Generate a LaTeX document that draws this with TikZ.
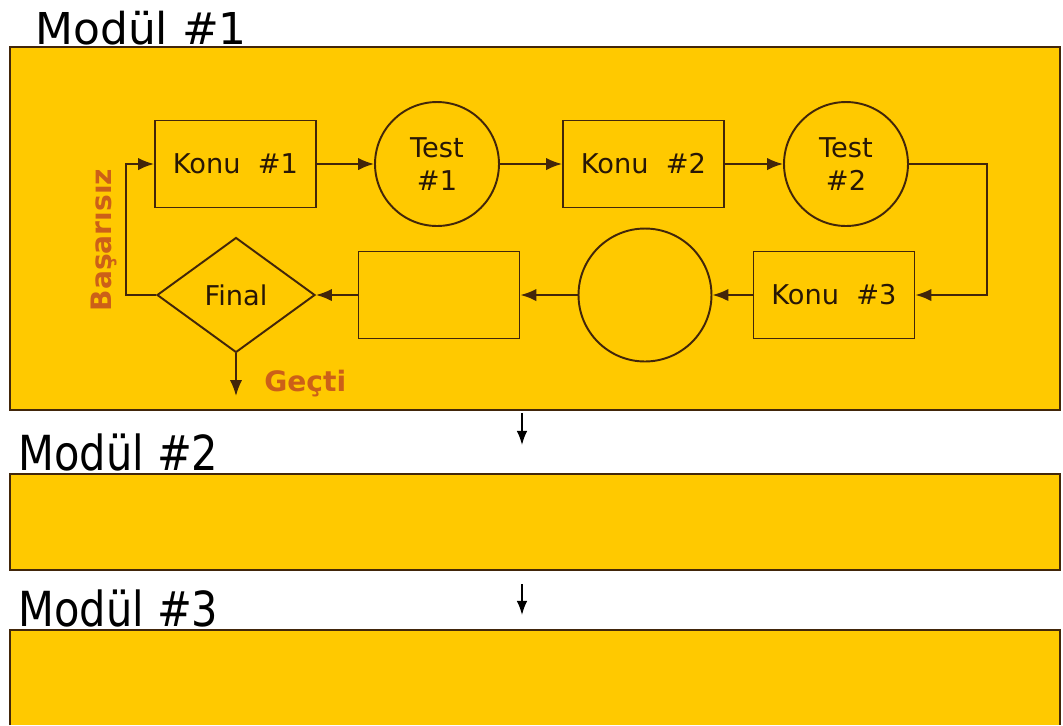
\documentclass[tikz,border=0pt]{standalone}
\usepackage{fontspec}
\setmainfont{DejaVu Sans}
\newfontfamily\condfont[FakeStretch=0.86]{DejaVu Sans}
\usetikzlibrary{arrows.meta,shapes.geometric}
\definecolor{modfill}{RGB}{255,201,0}
\definecolor{edge}{RGB}{66,38,10}
\definecolor{lbl}{RGB}{204,96,24}
\tikzset{
  modbox/.style={draw=edge,fill=modfill,line width=1pt},
  topic/.style={draw=edge,line width=1.1pt,minimum width=3.22cm,minimum height=1.74cm,inner sep=0pt,font=\fontsize{15.5}{19}\selectfont,text=edge!60!black},
  testc/.style={circle,draw=edge,line width=1.1pt,minimum size=2.48cm,inner sep=0pt,align=center,font=\fontsize{15.5}{19}\selectfont,text=edge!60!black},
  dec/.style={diamond,draw=edge,line width=1.1pt,minimum width=3.16cm,minimum height=2.3cm,inner sep=0pt,font=\fontsize{15.5}{19}\selectfont,text=edge!60!black},
  flow/.style={draw=edge,line width=1.1pt,-{Latex[length=9pt,width=7pt]}},
  modarrow/.style={draw=black,line width=0.9pt,-{Latex[length=8pt,width=6pt]}},
  modtitle/.style={anchor=base west,inner sep=0pt,text=black},
  labeltxt/.style={text=lbl,font=\fontsize{16}{19}\selectfont\bfseries,inner sep=0pt}
}
\begin{document}
\begin{tikzpicture}[x=0.02cm,y=-0.02cm]
\fill[white] (0,0) rectangle (1063,725);
\useasboundingbox (0,0) rectangle (1063,725);
% module boxes
\path[modbox] (10,47) rectangle (1060,410);
\path[modbox] (10,474) rectangle (1060,570);
\fill[modfill] (10,630) rectangle (1060,725);
\draw[edge,line width=1pt] (10,725) -- (10,630) -- (1060,630) -- (1060,725);
% titles
\node[modtitle,font=\fontsize{25}{30}\selectfont] (t1) at (35,44) {Modül \#1};
\node[modtitle,font=\condfont\fontsize{27.5}{32}\selectfont] (t2) at (18,470) {Modül \#2};
\node[modtitle,font=\condfont\fontsize{27.5}{32}\selectfont] (t3) at (18,626) {Modül \#3};
% inter-module arrows
\coordinate (a1s) at (522,413);
\coordinate (a1e) at (522,445);
\coordinate (a2s) at (522,584);
\coordinate (a2e) at (522,615);
\draw[modarrow] (a1s) -- (a1e);
\draw[modarrow] (a2s) -- (a2e);
% flow nodes
\node[topic] (k1) at (235.5,164) {Konu\ \ \#1};
\node[testc] (ts1) at (437,164) {Test\\\#1};
\node[topic] (k2) at (643.5,164) {Konu\ \ \#2};
\node[testc] (ts2) at (846,164) {Test\\\#2};
\node[topic] (k3) at (834,295) {Konu\ \ \#3};
\node[circle,draw=edge,line width=1.1pt,minimum size=2.66cm,inner sep=0pt] (c3) at (645,295) {};
\node[topic] (r3) at (439,295) {};
\node[dec] (fin) at (236,295) {Final};
% connectors
\draw[flow] (k1) -- (ts1);
\draw[flow] (ts1) -- (k2);
\draw[flow] (k2) -- (ts2);
\draw[flow] (ts2.east) -- (987,164) |- (k3.east);
\draw[flow] (k3) -- (c3);
\draw[flow] (c3) -- (r3);
\draw[flow] (r3) -- (fin);
\draw[flow] (fin.west) -- (126,295) |- (k1.west);
\coordinate (pass) at (236,396);
\draw[flow] (fin.south) -- (pass);
% labels
\node[labeltxt,rotate=90] (fail) at (104,240) {Başarısız};
\node[labeltxt,anchor=west] (geti) at (264,384) {Geçti};
\end{tikzpicture}
\end{document}
